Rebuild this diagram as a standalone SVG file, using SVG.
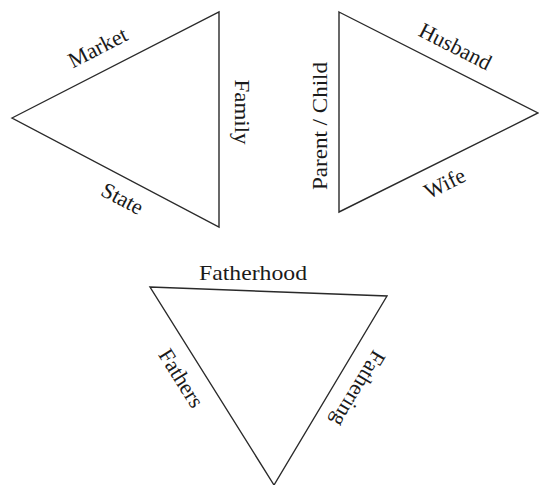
<svg xmlns="http://www.w3.org/2000/svg" width="539" height="485" viewBox="0 0 539 485">
<style>
.edge{fill:none;stroke:#2a2a2a;stroke-width:1.4;stroke-linejoin:miter}
.lbl{font-family:"Liberation Serif","Times New Roman",serif;font-size:22px;fill:#1a1a1a}
</style>
<rect width="539" height="485" fill="#ffffff"/>
<g id="connectors">
<polygon id="tri-market" class="edge" points="12,118 219,12 219,227"/>
<polygon id="tri-family" class="edge" points="339,12 538,113 339,212"/>
<polygon id="tri-father" class="edge" points="150,287 387,296 274,485"/>
</g>
<g id="node-market"><text class="lbl" text-anchor="middle" transform="translate(101,54) rotate(-27)">Market</text></g>
<g id="node-state"><text class="lbl" text-anchor="middle" transform="translate(119,205) rotate(28)">State</text></g>
<g id="node-family"><text class="lbl" text-anchor="middle" textLength="65" lengthAdjust="spacingAndGlyphs" transform="translate(235,112) rotate(90)">Family</text></g>
<g id="node-parentchild"><text class="lbl" text-anchor="middle" textLength="128" lengthAdjust="spacingAndGlyphs" transform="translate(327,126) rotate(-90)">Parent / Child</text></g>
<g id="node-husband"><text class="lbl" text-anchor="middle" transform="translate(452,53) rotate(27)">Husband</text></g>
<g id="node-wife"><text class="lbl" text-anchor="middle" transform="translate(448,190) rotate(-26.4)">Wife</text></g>
<g id="node-fatherhood"><text class="lbl" text-anchor="middle" textLength="108" lengthAdjust="spacingAndGlyphs" x="253" y="280">Fatherhood</text></g>
<g id="node-fathers"><text class="lbl" text-anchor="middle" transform="translate(175,382) rotate(58)">Fathers</text></g>
<g id="node-fathering"><text class="lbl" text-anchor="middle" transform="translate(352,385) rotate(121)">Fathering</text></g>
</svg>
